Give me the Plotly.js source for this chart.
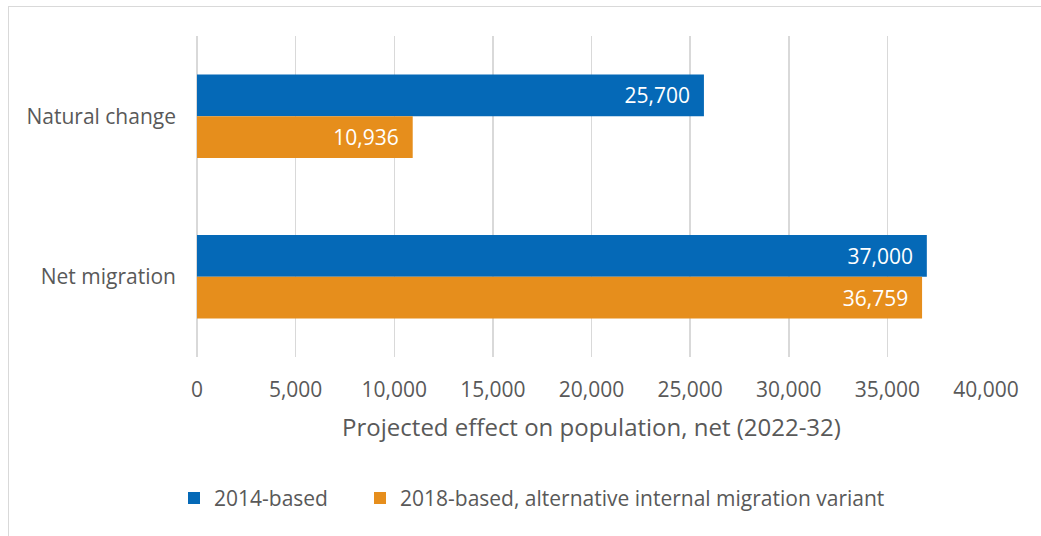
<!DOCTYPE html>
<html>
<head>
<meta charset="utf-8">
<script src="https://cdn.plot.ly/plotly-3.0.1.min.js"></script>
<style>
  html, body { margin: 0; padding: 0; background: #fff; }
  #wrap { position: relative; width: 1041px; height: 536px; overflow: hidden; }
  #frame { position: absolute; left: 8px; top: 6px; width: 1100px; height: 600px;
           border-top: 1.5px solid #d9d9d9; border-left: 1.5px solid #d9d9d9; box-sizing: border-box; }
  #chart { position: absolute; left: 0; top: 0; width: 1041px; height: 536px; }
</style>
</head>
<body>
<div id="wrap">
  <div id="frame"></div>
  <div id="chart"></div>
</div>
<script>
const categories = ["Natural change", "Net migration"];
const series2014 = [25700, 37000];
const series2018 = [10936, 36759];
const seriesNames = ["2014-based", "2018-based, alternative internal migration variant"];
const tickValues = [0, 5000, 10000, 15000, 20000, 25000, 30000, 35000, 40000];
const tickLabels = ["0", "5,000", "10,000", "15,000", "20,000", "25,000", "30,000", "35,000", "40,000"];
const axisTitle = "Projected effect on population, net (2022-32)";

const fontFam = "'Open Sans', 'Noto Sans', sans-serif";
const FS = 21;
const pad = "\u00a0\u00a0";
const fmt = v => v.toLocaleString("en-US") + pad;

const traces = [
  {
    type: "bar", orientation: "h", name: seriesNames[0],
    y: categories, x: series2014,
    marker: { color: "#0569b7" },
    text: series2014.map(fmt), textposition: "inside", insidetextanchor: "end",
    textfont: { color: "#ffffff", size: FS, family: fontFam },
    hoverinfo: "none", legend: "legend"
  },
  {
    type: "bar", orientation: "h", name: seriesNames[1],
    y: categories, x: series2018,
    marker: { color: "#e68e1c" },
    text: series2018.map(fmt), textposition: "inside", insidetextanchor: "end",
    textfont: { color: "#ffffff", size: FS, family: fontFam },
    hoverinfo: "none", legend: "legend2"
  }
];

const legendCommon = {
  orientation: "h", y: -0.44, yanchor: "middle", xanchor: "left",
  font: { size: FS, color: "#595959", family: fontFam },
  itemwidth: 30, bgcolor: "rgba(0,0,0,0)"
};

const layout = {
  width: 1041, height: 536,
  margin: { l: 197, r: 55, t: 36, b: 179, pad: 0 },
  paper_bgcolor: "rgba(0,0,0,0)", plot_bgcolor: "rgba(0,0,0,0)",
  font: { family: fontFam, color: "#595959", size: FS },
  barmode: "group", bargap: 0.48, bargroupgap: 0,
  showlegend: true,
  legend: Object.assign({}, legendCommon, { x: (174 - 197) / 789 }),
  legend2: Object.assign({}, legendCommon, { x: (360 - 197) / 789 }),
  xaxis: {
    range: [0, 40000], tickvals: tickValues, ticktext: tickLabels,
    showgrid: true, gridcolor: "#d9d9d9", gridwidth: 1.5,
    zeroline: true, zerolinecolor: "#d9d9d9", zerolinewidth: 1.5,
    showline: false, ticks: "", ticklen: 0,
    ticklabelstandoff: 18,
    tickfont: { size: FS, color: "#595959" },
    title: { text: axisTitle, font: { size: 24, color: "#595959" }, standoff: 17 },
    automargin: false,
    fixedrange: true
  },
  yaxis: {
    type: "category", autorange: "reversed",
    showgrid: false, zeroline: false, showline: false, ticks: "",
    ticklabelstandoff: 20,
    tickfont: { size: FS, color: "#595959" },
    automargin: false,
    fixedrange: true
  }
};

Plotly.newPlot("chart", traces, layout, { displayModeBar: false, staticPlot: true });
</script>
</body>
</html>
